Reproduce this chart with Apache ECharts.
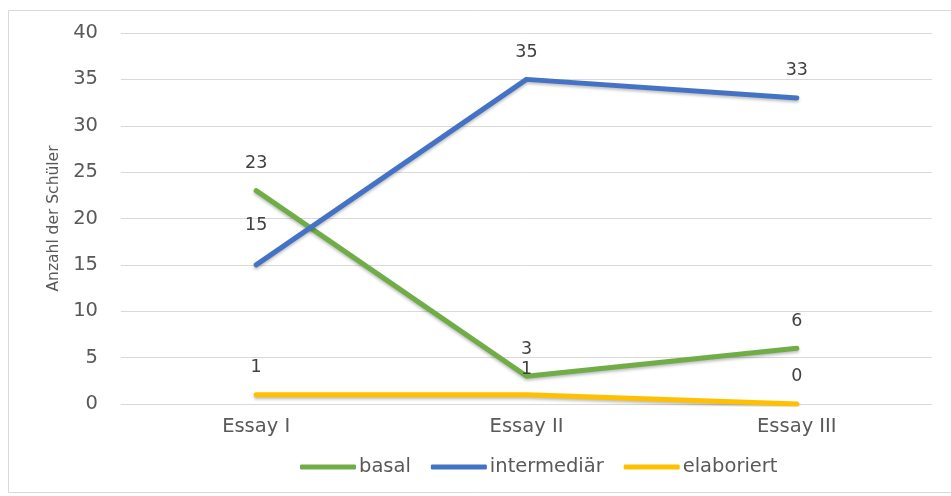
<!DOCTYPE html>
<html>
<head>
<meta charset="utf-8">
<script src="https://cdn.jsdelivr.net/npm/echarts@6/dist/echarts.min.js"></script>
<style>
  html, body { margin: 0; padding: 0; background: #ffffff; }
  #chart { width: 951px; height: 496px; }
</style>
</head>
<body>
<div id="chart"></div>
<script>
// Essay levels per assignment
const categories = ['Essay I', 'Essay II', 'Essay III'];
const basal = [23, 3, 6];
const intermediaer = [15, 35, 33];
const elaboriert = [1, 1, 0];
const yTicks = [0, 5, 10, 15, 20, 25, 30, 35, 40];

const FONT = '"DejaVu Sans", "Liberation Sans", sans-serif';
const TEXT = '#404040';
const AXIS_TEXT = '#595959';

function lineSeries(name, data, color, labelOffsets) {
  return {
    name: name,
    type: 'line',
    data: data.map((v, i) => {
      const item = { value: v };
      if (labelOffsets && labelOffsets[i]) item.label = { offset: labelOffsets[i] };
      return item;
    }),
    symbol: 'circle',
    symbolSize: 0.1,
    showSymbol: true,
    lineStyle: {
      width: 5, color: color, cap: 'round', join: 'round',
      shadowColor: 'rgba(0,0,0,0.25)', shadowBlur: 3, shadowOffsetY: 2
    },
    itemStyle: { color: color },
    label: {
      show: true, position: 'top', distance: 18,
      color: TEXT, fontSize: 17.5, fontFamily: FONT
    },
    z: 2
  };
}

const chart = echarts.init(document.getElementById('chart'), null, { renderer: 'canvas' });
chart.setOption({
  backgroundColor: '#ffffff',
  animation: false,
  graphic: [{
    type: 'polyline',
    shape: { points: [[951, 10.5], [8.5, 10.5], [8.5, 492.5], [951, 492.5]] },
    style: { fill: 'none', stroke: '#d9d9d9', lineWidth: 1 },
    silent: true
  }],
  grid: { left: 121, right: 19, top: 33, bottom: 92 },
  legend: {
    top: 452,
    left: 295,
    icon: 'roundRect',
    itemWidth: 56,
    itemHeight: 5,
    itemGap: 20,
    textStyle: { color: AXIS_TEXT, fontSize: 19.5, fontFamily: FONT, padding: [0, 0, 0, -2] },
    data: ['basal', 'intermediär', 'elaboriert']
  },
  xAxis: {
    type: 'category',
    data: categories,
    boundaryGap: true,
    axisLine: { lineStyle: { color: '#d9d9d9' } },
    axisTick: { show: false },
    axisLabel: { color: AXIS_TEXT, fontSize: 19.5, fontFamily: FONT, margin: 13 }
  },
  yAxis: {
    type: 'value',
    min: yTicks[0],
    max: yTicks[yTicks.length - 1],
    interval: 5,
    name: 'Anzahl der Schüler',
    nameLocation: 'middle',
    nameGap: 52,
    nameTextStyle: { color: AXIS_TEXT, fontSize: 15.5, fontFamily: FONT },
    axisLine: { show: false },
    axisTick: { show: false },
    splitLine: { lineStyle: { color: '#d9d9d9' } },
    axisLabel: { color: AXIS_TEXT, fontSize: 19.5, fontFamily: FONT, margin: 23 }
  },
  series: [
    lineSeries('basal', basal, '#70AD47'),
    lineSeries('intermediär', intermediaer, '#4472C4', [[0, -12], null, null]),
    lineSeries('elaboriert', elaboriert, '#FFC000', [null, [0, 2], null])
  ]
});
</script>
</body>
</html>
